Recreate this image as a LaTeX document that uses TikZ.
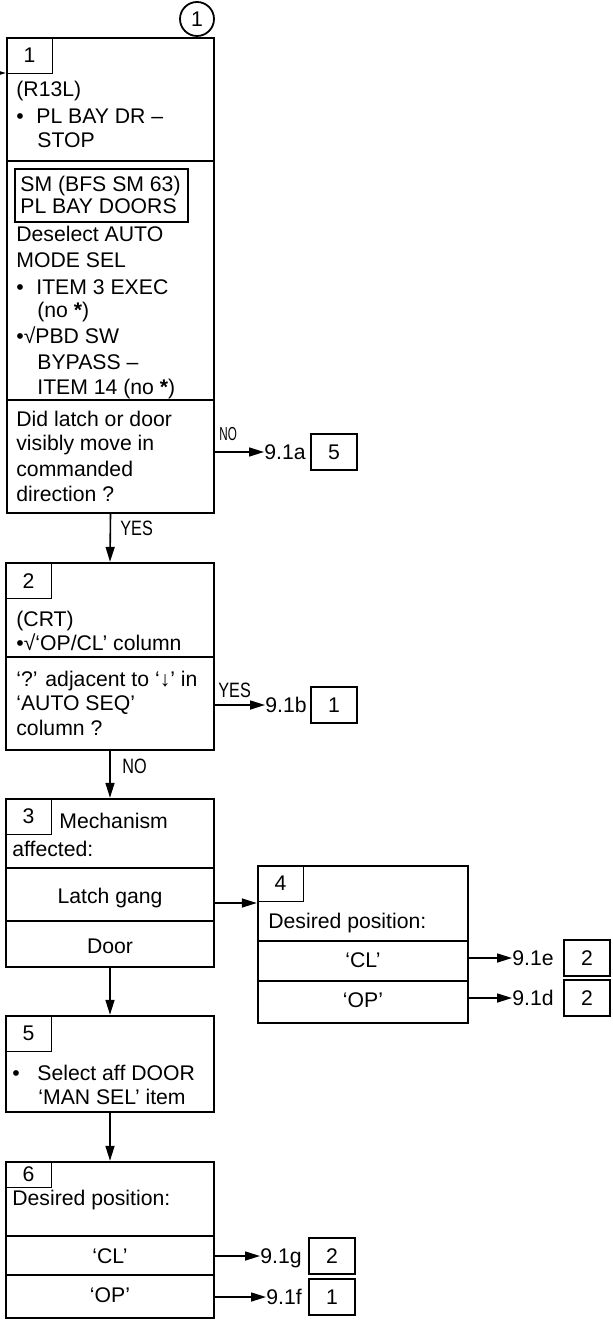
\documentclass[tikz,border=0pt]{standalone}
\usepackage{graphicx}
\usepackage{fontspec}
\setmainfont{Liberation Sans}
\usetikzlibrary{arrows.meta, fit}
\newcommand{\itembul}[1][10pt]{\makebox[#1][l]{•}}
\newcommand{\lbl}[2][0.78]{\scalebox{#1}[1]{#2}}

\begin{document}
\begin{tikzpicture}[x=0.5pt, y=-0.5pt, >={Triangle[length=7.5pt,width=4.5pt]},
    font=\fontsize{10.6}{12.5}\selectfont,
    frame/.style={draw, line width=1.2pt, inner sep=0pt},
    numbox/.style={draw, line width=0.8pt, minimum width=23pt, minimum height=18pt, inner sep=0pt},
    txt/.style={anchor=base west, inner sep=0pt},
    mid/.style={anchor=base, inner sep=0pt},
    goto/.style={anchor=west, inner sep=0pt, text height=7.6pt, text depth=0pt},
    conn/.style={->, line width=0.8pt},
    div/.style={line width=1.1pt},
    lab/.style={anchor=base west, inner sep=0pt, font=\fontsize{10.4}{12}\selectfont}]
    \useasboundingbox (0,0) rectangle (613,1320);
    % boxes
    \node[frame, fit={(7,38) (214,513)}]     (b1) {};
    \node[frame, fit={(6,563) (214,750)}]    (b2) {};
    \node[frame, fit={(6,799) (214,967)}]    (b3) {};
    \node[frame, fit={(258,866) (468,1023)}] (b4) {};
    \node[frame, fit={(6,1016) (214,1112)}]  (b5) {};
    \node[frame, fit={(6,1162) (214,1318)}]  (b6) {};
    \foreach \b/\y in {b1/161, b1/400, b2/657, b3/868, b3/921, b4/941, b4/981, b6/1236, b6/1275}
        \draw[div] (\b.west |- 0,\y) -- (\b.east |- 0,\y);
    \foreach \b/\n in {b1/1, b2/2, b3/3, b4/4, b5/5}
        \node[numbox, anchor=north west] (n\n) at (\b.north west) {\n};
    \node[numbox, anchor=north west, minimum height=13pt] (n6) at (b6.north west) {6};
    \node[draw, circle, line width=0.9pt, minimum size=17pt, inner sep=0pt] (c1) at (197,19) {1};
    \coordinate (in1) at (-12,73);
    \draw[conn] (in1) -- (in1 -| b1.west);
    % box 1
    \node[frame, line width=1pt, fit={(15,169) (188,222)}] (sm) {};
    \foreach \x/\y/\s in {16/97/{(R13L)}, 16/124/{\itembul PL BAY DR –}, 37/148/{STOP},
            20/192/{SM (BFS SM 63)}, 20/214/{PL BAY DOORS}, 16/242/{Deselect AUTO},
            16/268/{MODE SEL}, 16/295/{\itembul ITEM 3 EXEC}, 37/318/{(no \textbf{*})},
            16/344/{•√PBD SW}, 37/370/{BYPASS –}, 37/394/{ITEM 14 (no \textbf{*})},
            16/426/{Did latch or door}, 16/451/{visibly move in}, 16/476/{commanded},
            16/501/{direction ?}}
        \node[txt] (t\y) at (\x,\y) {\s};
    % box 2
    \foreach \x/\y/\s in {16/626/{(CRT)}, 16/650/{•√‘OP/CL’ column},
            16/686/{‘?’ adjacent to ‘↓’ in}, 16/710/{‘AUTO SEQ’}, 16/735/{column ?}}
        \node[txt] (t\y) at (\x,\y) {\s};
    % box 3, 4, 5, 6
    \node[txt] (t828) at (59,828) {Mechanism};
    \node[txt] (t856) at (12,856) {affected:};
    \node[mid] (t903) at (110,903) {Latch gang};
    \node[mid] (t953) at (110,953) {Door};
    \node[txt] (t928) at (268,928) {Desired position:};
    \node[mid] (t967) at (363,967) {‘CL’};
    \node[mid] (t1007) at (363,1007) {‘OP’};
    \node[txt] (t1080) at (12,1080) {\itembul[12.5pt]Select aff DOOR};
    \node[txt] (t1104) at (38,1104) {‘MAN SEL’ item};
    \node[txt] (t1205) at (12,1205) {Desired position:};
    \node[mid] (t1263) at (110,1263) {‘CL’};
    \node[mid] (t1302) at (110,1302) {‘OP’};
    % flow
    \draw[conn] (b1.south) -- (b2.north);
    \draw[conn] (b2.south) -- (b3.north);
    \draw[conn] (b3.south) -- (b5.north);
    \draw[conn] (b5.south) -- (b6.north);
    \draw[conn] (b3.east |- 0,903) -- (b4.west |- 0,903);
    \node[lab] (yes1) at (120,535) {\lbl{YES}};
    \node[lab, font=\fontsize{9.4}{11}\selectfont] (no1) at (219,440) {\lbl[0.62]{NO}};
    \node[lab] (yes2) at (218,697) {\lbl{YES}};
    \node[lab] (no2) at (122,773) {\lbl{NO}};
    \foreach \b/\y/\g/\tx/\rx/\n in {b1/452/a/264/334/5, b2/705/b/265/334/1, b4/958/e/512/587/2,
            b4/998/d/512/587/2, b6/1256/g/260/332/2, b6/1297/f/266/332/1}{
        \node[goto] (g\g) at (\tx,\y) {9.1\g};
        \node[numbox] (r\g) at (\rx,\y) {\n};
        \draw[conn] (\b.east |- g\g.west) -- (g\g.west);
    }
\end{tikzpicture}
\end{document}
